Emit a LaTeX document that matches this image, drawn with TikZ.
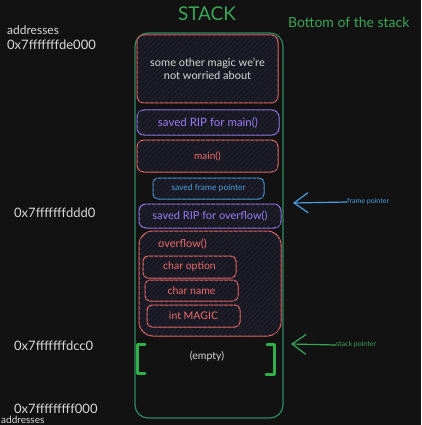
\documentclass[tikz,border=0pt]{standalone}
\usepackage{fontspec}
\setmainfont{Lato}
\usetikzlibrary{patterns.meta,arrows.meta}
\definecolor{bgc}{HTML}{121212}
\definecolor{redc}{HTML}{F06A6A}
\definecolor{purc}{HTML}{9B7BF5}
\definecolor{bluc}{HTML}{4A9FE0}
\definecolor{grnt}{HTML}{3AA655}
\definecolor{grnb}{HTML}{2E8B60}
\definecolor{brk}{HTML}{2FB04A}
\definecolor{txtc}{HTML}{D8D8D8}
\definecolor{hatchc}{HTML}{26263A}
\definecolor{boxbg}{HTML}{17171F}
\tikzset{
  box/.style={draw, line width=1pt, rounded corners=7pt, fill=boxbg, inner sep=0pt,
    postaction={pattern={Lines[angle=45,distance=3.5pt,line width=0.7pt]}, pattern color=hatchc}},
  redbox/.style={box, draw=redc, text=redc},
  purbox/.style={box, draw=purc, text=purc},
  blubox/.style={box, draw=bluc, text=bluc},
  addr/.style={text=txtc, font=\fontsize{13}{15}\selectfont, anchor=west, inner sep=0pt},
  ptr/.style={line width=1.2pt, -{Straight Barb[length=14pt,width=20pt]}},
}
\begin{document}
\begin{tikzpicture}[x=1pt,y=-1pt]
\fill[bgc] (0,0) rectangle (421,425);
\useasboundingbox (0,0) rectangle (421,425);
% titles
\node[text=grnt, font=\fontsize{19}{21}\selectfont] (stack) at (207,14) {STACK};
\node[text=grnt, font=\fontsize{14}{16}\selectfont, anchor=west, inner sep=0pt] (bottom) at (288,22) {Bottom of the stack};
% outer stack
\draw[grnb, line width=1.2pt, rounded corners=13pt] (135,33) rectangle (283,418);
% boxes
\node[redbox, minimum width=141pt, minimum height=68pt, align=center, text=txtc, font=\fontsize{11}{13}\selectfont] (other) at (207.5,69) {some other magic we're\\not worried about};
\node[purbox, minimum width=142pt, minimum height=25pt, font=\fontsize{11.5}{13}\selectfont] (ripmain) at (208,122.5) {saved RIP for main()};
\node[redbox, minimum width=141pt, minimum height=32pt, font=\fontsize{10}{12}\selectfont] (main) at (207.5,156) {main()};
\node[blubox, minimum width=111pt, minimum height=21pt, rounded corners=5pt, font=\fontsize{8.5}{10}\selectfont] (sfp) at (208.5,188.5) {saved frame pointer};
\node[purbox, minimum width=142pt, minimum height=24pt, font=\fontsize{11}{13}\selectfont] (ripov) at (210,216) {saved RIP for overflow()};
\node[redbox, minimum width=142pt, minimum height=105pt, rounded corners=14pt] (ov) at (210,283.5) {};
\node[text=redc, font=\fontsize{11}{13}\selectfont, anchor=west, inner sep=0pt] (ovl) at (158,244) {overflow()};
\node[redbox, minimum width=93pt, minimum height=22pt, rounded corners=5pt, font=\fontsize{10.5}{12}\selectfont] (copt) at (189.5,267) {char option};
\node[redbox, minimum width=93pt, minimum height=21pt, rounded corners=5pt, font=\fontsize{10.5}{12}\selectfont] (cname) at (191.5,290.5) {char name};
\node[redbox, minimum width=93pt, minimum height=22pt, rounded corners=5pt, font=\fontsize{10.5}{12}\selectfont] (imagic) at (193.5,316) {int MAGIC};
% empty region
\node[text=txtc, font=\fontsize{10.5}{12}\selectfont] (empty) at (207,356) {(empty)};
\draw[brk, line width=3pt, line cap=round, line join=round] (145,344) -- (137,344) -- (137,373) -- (145,373);
\draw[brk, line width=3pt, line cap=round, line join=round] (267,344) -- (274,344) -- (274,374) -- (266,374);
% addresses
\node[addr, font=\fontsize{12}{14}\selectfont] (atop) at (7,30) {addresses};
\node[addr] (a1) at (7,45) {0x7fffffffde000};
\node[addr] (a2) at (14,213) {0x7fffffffddd0};
\node[addr] (a3) at (14,346) {0x7fffffffdcc0};
\node[addr] (a4) at (14,409) {0x7fffffffff000};
\node[addr, font=\fontsize{10}{12}\selectfont] (abot) at (1,419.5) {addresses};
% pointers
\node[text=bluc, font=\fontsize{7}{8}\selectfont, anchor=west, inner sep=0pt] (fpl) at (347,202) {frame pointer};
\coordinate (fptip) at (293,203);
\draw[bluc, ptr] (fpl.west) -- (fptip);
\node[text=grnt, font=\fontsize{7}{8}\selectfont, anchor=west, inner sep=0pt] (spl) at (336,345) {stack pointer};
\coordinate (sptip) at (291,344);
\draw[grnt, ptr] (spl.west) -- (sptip);
\end{tikzpicture}
\end{document}
